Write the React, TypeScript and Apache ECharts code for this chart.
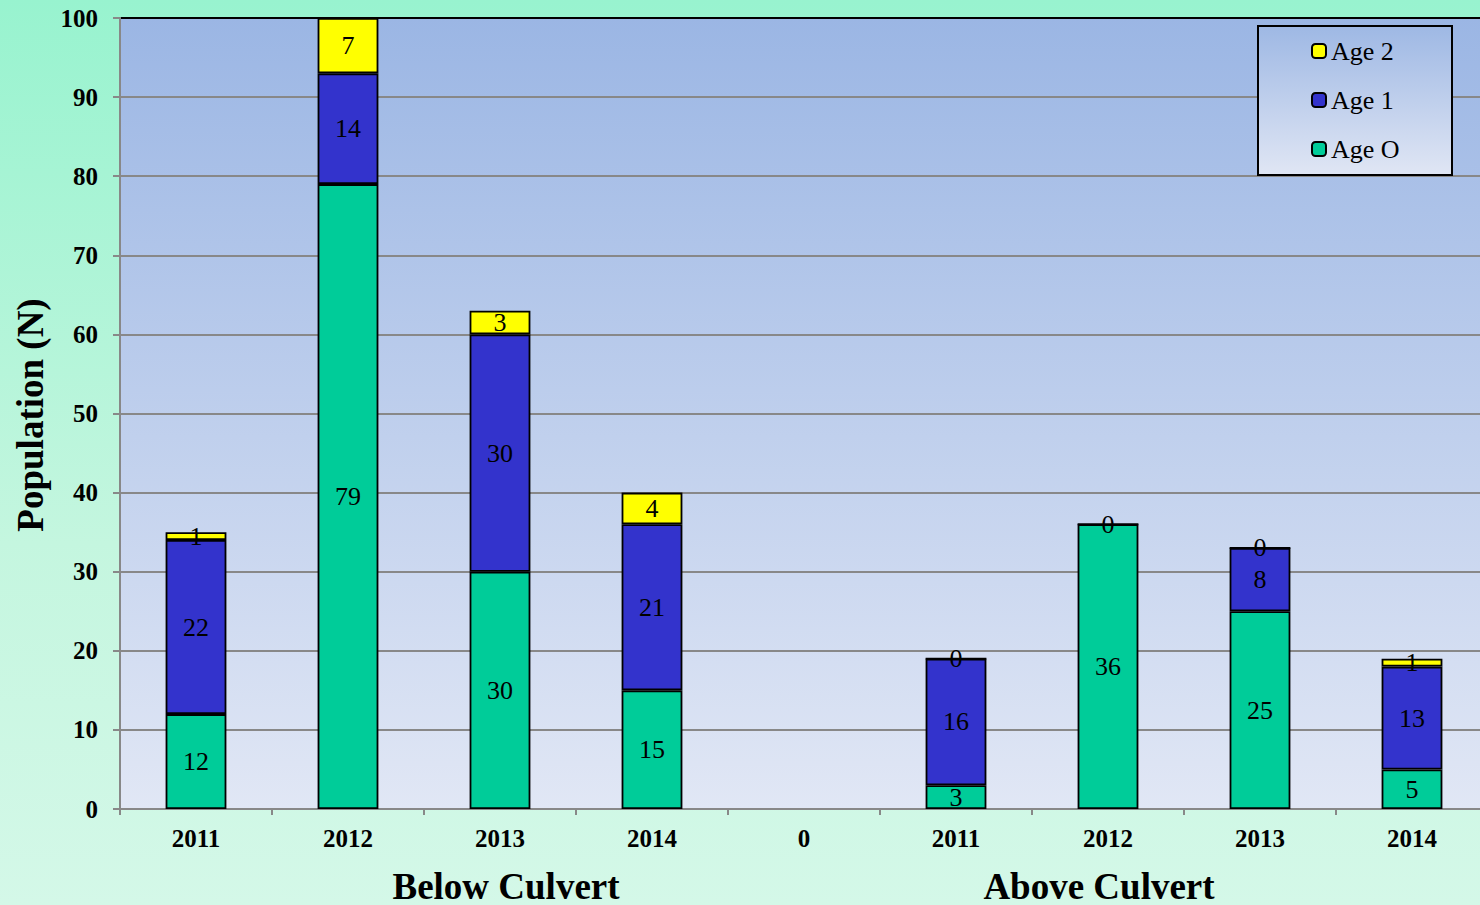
import React, { useEffect, useRef } from "react";
import * as echarts from "echarts";

const categories = ["2011", "2012", "2013", "2014", "0", "2011", "2012", "2013", "2014"];
const age0 = [12, 79, 30, 15, null, 3, 36, 25, 5];
const age1 = [22, 14, 30, 21, null, 16, null, 8, 13];
const age2 = [1, 7, 3, 4, null, 0, 0, 0, 1];
const groupLabels = ["Below Culvert", "Above Culvert"];
const yAxisTitle = "Population (N)";

const FONT = "'Liberation Serif', 'Times New Roman', serif";

export default function App() {
  const ref = useRef<HTMLDivElement>(null);
  useEffect(() => {
    document.body.style.margin = "0";
    const chart = echarts.init(ref.current!, null, { renderer: "svg" });
    const label = {
      show: true,
      position: "inside",
      color: "#000",
      fontFamily: FONT,
      fontSize: 26,
    };
    const mk = (name: string, data: (number | null)[], color: string) => ({
      name,
      type: "bar",
      stack: "s",
      data,
      barWidth: "40%",
      itemStyle: { color, borderColor: "#000", borderWidth: 1.8 },
      label,
    });
    chart.setOption({
      animation: false,
      backgroundColor: "transparent",
      grid: {
        left: 120,
        top: 18,
        right: 0,
        bottom: 96,
        show: true,
        borderWidth: 0,
        backgroundColor: new echarts.graphic.LinearGradient(0, 0, 0, 1, [
          { offset: 0, color: "#9bb6e4" },
          { offset: 1, color: "#e1e7f5" },
        ]),
      },
      xAxis: {
        type: "category",
        data: categories,
        axisLine: { lineStyle: { color: "#888", width: 2 } },
        axisTick: { show: true, length: 6, lineStyle: { color: "#888", width: 2 } },
        axisLabel: {
          color: "#000",
          fontFamily: FONT,
          fontWeight: "bold",
          fontSize: 25,
          margin: 17,
        },
      },
      yAxis: {
        type: "value",
        min: 0,
        max: 100,
        interval: 10,
        axisLine: { show: true, lineStyle: { color: "#888", width: 2 } },
        axisTick: { show: true, length: 7, lineStyle: { color: "#888", width: 2 } },
        splitLine: { lineStyle: { color: "#888", width: 2 } },
        axisLabel: {
          color: "#000",
          fontFamily: FONT,
          fontWeight: "bold",
          fontSize: 25,
          margin: 22,
        },
      },
      legend: {
        orient: "vertical",
        left: 1311,
        top: 38,
        padding: 0,
        itemWidth: 14,
        itemHeight: 14,
        itemGap: 23,
        z: 10,
        data: ["Age 2", "Age 1", "Age O"],
        textStyle: { color: "#000", fontFamily: FONT, fontSize: 26, lineHeight: 26 },
      },
      graphic: [
        {
          type: "rect",
          z: 3,
          shape: { x: 1258, y: 26, width: 194, height: 149 },
          style: {
            fill: new echarts.graphic.LinearGradient(0, 0, 0, 1, [
              { offset: 0, color: "#9eb8e4" },
              { offset: 1, color: "#e0e6f4" },
            ]),
            stroke: "#000",
            lineWidth: 2,
          },
        },
        {
          type: "line",
          z: 5,
          shape: { x1: 121, y1: 18, x2: 1488, y2: 18 },
          style: { stroke: "#000", lineWidth: 2 },
        },
        {
          type: "text",
          x: 30,
          y: 415,
          rotation: Math.PI / 2,
          style: {
            text: yAxisTitle,
            fill: "#000",
            font: `bold 37px ${FONT}`,
            textAlign: "center",
            textVerticalAlign: "middle",
          },
        },
        {
          type: "text",
          x: 506,
          y: 886,
          style: {
            text: groupLabels[0],
            fill: "#000",
            font: `bold 37px ${FONT}`,
            textAlign: "center",
            textVerticalAlign: "middle",
          },
        },
        {
          type: "text",
          x: 1099,
          y: 886,
          style: {
            text: groupLabels[1],
            fill: "#000",
            font: `bold 37px ${FONT}`,
            textAlign: "center",
            textVerticalAlign: "middle",
          },
        },
      ],
      series: [
        mk("Age O", age0, "#00cc99"),
        mk("Age 1", age1, "#3333cc"),
        mk("Age 2", age2, "#ffff00"),
      ],
    });
    return () => chart.dispose();
  }, []);
  return (
    <div style={{ width: 1480, height: 905, overflow: "hidden" }}>
      <div
        ref={ref}
        style={{
          width: 1488,
          height: 905,
          background: "linear-gradient(to bottom, #98f3cf 0%, #c4f6df 60%, #d4f8e8 100%)",
        }}
      />
    </div>
  );
}
